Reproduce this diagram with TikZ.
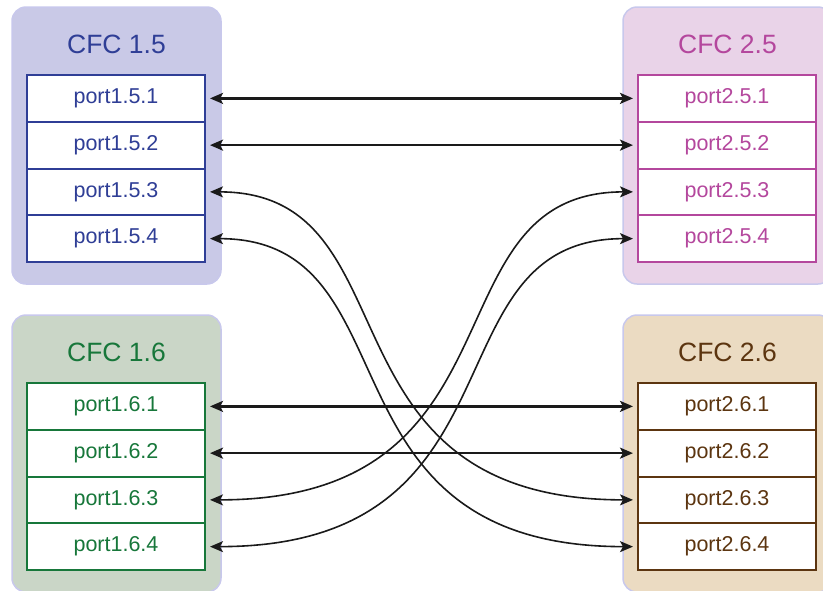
\documentclass[tikz,border=0pt]{standalone}
\usepackage{fontspec}
\setmainfont{Liberation Sans}
\usetikzlibrary{arrows.meta}
\definecolor{cfcedge}{HTML}{C8C8EC}
\definecolor{blueink}{HTML}{2F3E96}
\definecolor{bluefill}{HTML}{C9C9E7}
\definecolor{pinkink}{HTML}{B4479D}
\definecolor{pinkfill}{HTML}{E9D3E8}
\definecolor{greenink}{HTML}{17773A}
\definecolor{greenfill}{HTML}{CAD6C7}
\definecolor{brownink}{HTML}{5C3510}
\definecolor{brownfill}{HTML}{EBDBC2}
\definecolor{linkink}{HTML}{1A1A1A}

\begin{document}
\begin{tikzpicture}[
  x=1pt,
  y=-1pt,
  every node/.style={font=\fontsize{21.5}{25}\selectfont},
  group/.style={draw=cfcedge, line width=1.5pt, rounded corners=14pt},
  cfctitle/.style={font=\fontsize{26.5}{30}\selectfont, inner sep=0pt},
  port/.style={draw, fill=white, line width=2pt, minimum width=178pt,
               minimum height=46.75pt, inner sep=0pt},
  link/.style={linkink, line width=2.3pt, shorten <=4pt, shorten >=4pt,
               {Stealth[length=13pt, width=11pt, inset=3pt]}-{Stealth[length=13pt, width=11pt, inset=3pt]}},
  crosslink/.style={link, line width=1.6pt}
]
  % ---- page, same size as the reference ----
  \useasboundingbox (0,0) rectangle (823,590);
  \clip (0,0) rectangle (823,590);

  % ---- the four CFC groups with their ports ----
  \foreach \a/\b/\gx/\gy/\ink/\paper in {1/5/12/7/blueink/bluefill,
      2/5/623/7/pinkink/pinkfill, 1/6/12/315/greenink/greenfill,
      2/6/623/315/brownink/brownfill} {
    \draw[group, fill=\paper] (\gx,\gy) rectangle ++(209,277);
    \node[cfctitle, text=\ink] (cfc\a\b) at (\gx+104.5,\gy+37) {CFC \a.\b};
    \foreach \i in {1,...,4}
      \node[port, draw=\ink, text=\ink] (p\a\b-\i)
        at (\gx+104,\gy+44.625+46.75*\i) {port\a.\b.\i};
  }

  % ---- straight links ----
  \draw[link] (p15-1.east) -- (p25-1.west);
  \draw[link] (p15-2.east) -- (p25-2.west);
  \draw[link] (p16-1.east) -- (p26-1.west);
  \draw[link] (p16-2.east) -- (p26-2.west);

  % ---- crossing links ----
  \draw[crosslink] (p15-3.east) .. controls +(213,0) and +(-327,0) .. (p26-3.west);
  \draw[crosslink] (p15-4.east) .. controls +(213,0) and +(-327,0) .. (p26-4.west);
  \draw[crosslink] (p16-3.east) .. controls +(327,0) and +(-213,0) .. (p25-3.west);
  \draw[crosslink] (p16-4.east) .. controls +(327,0) and +(-213,0) .. (p25-4.west);
\end{tikzpicture}
\end{document}
